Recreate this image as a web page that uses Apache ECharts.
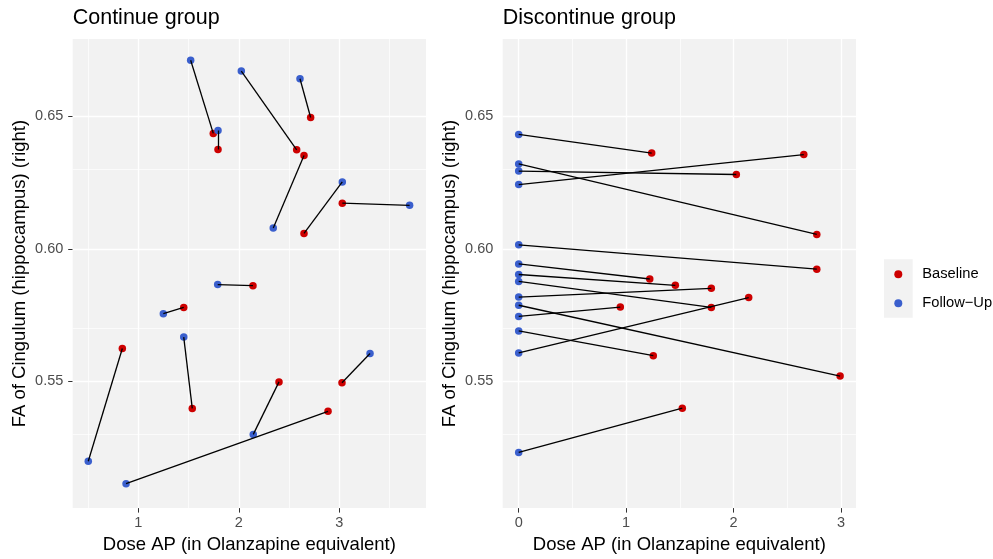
<!DOCTYPE html>
<html>
<head>
<meta charset="utf-8">
<script src="https://cdn.jsdelivr.net/npm/echarts@6/dist/echarts.min.js"></script>
<style>
html,body{margin:0;padding:0;background:#fff;}
#chart{width:993px;height:559px;}
</style>
</head>
<body>
<div id="chart"></div>
<script>
// ---- Data ----
const panelTitles = ['Continue group', 'Discontinue group'];
const xAxisTitle = 'Dose AP (in Olanzapine equivalent)';
const yAxisTitle = 'FA of Cingulum (hippocampus) (right)';
const seriesNames = ['Baseline', 'Follow\u2212Up'];

// Continue group
const contBaseX   = [1.746, 1.793, 2.576, 2.715, 2.649, 2.649, 3.030, 2.141, 1.452, 1.537, 0.841, 3.027, 2.400, 2.888];
const contBaseY   = [0.6435, 0.6374, 0.6373, 0.6495, 0.6352, 0.6058, 0.6172, 0.5861, 0.5779, 0.5398, 0.5624, 0.5495, 0.5498, 0.5387];
const contFollowX = [1.521, 1.793, 2.025, 2.609, 2.343, 3.030, 3.700, 1.790, 1.249, 1.452, 0.502, 3.306, 2.144, 0.878];
const contFollowY = [0.6711, 0.6446, 0.6670, 0.6641, 0.6078, 0.6252, 0.6164, 0.5865, 0.5755, 0.5667, 0.5199, 0.5605, 0.5300, 0.5114];

// Discontinue group
const discBaseX   = [1.238, 2.775, 2.026, 2.654, 2.775, 1.220, 1.458, 1.793, 1.793, 2.992, 0.946, 1.253, 2.141, 1.523];
const discBaseY   = [0.6361, 0.6054, 0.6280, 0.6355, 0.5923, 0.5886, 0.5862, 0.5779, 0.5851, 0.5520, 0.5780, 0.5597, 0.5816, 0.5399];
const discFollowX = [0, 0, 0, 0, 0, 0, 0, 0, 0, 0, 0, 0, 0, 0];
const discFollowY = [0.6431, 0.6320, 0.6293, 0.6242, 0.6015, 0.5943, 0.5903, 0.5877, 0.5818, 0.5787, 0.5745, 0.5690, 0.5607, 0.5232];

// Tick values
const yTicks = [0.55, 0.60, 0.65];
const yMinor = [0.525, 0.575, 0.625, 0.675];
const xTicksLeft = [1, 2, 3];
const xMinorLeft = [0.5, 1.5, 2.5, 3.5];
const xTicksRight = [0, 1, 2, 3];
const xMinorRight = [0.5, 1.5, 2.5];

// Axis ranges
const yRange = [0.50221, 0.67910];
const xRangeLeft = [0.347, 3.863];
const xRangeRight = [-0.149, 3.140];

// ---- Styling ----
const FONT = '"Liberation Sans", Arial, Helvetica, sans-serif';
const RED = '#CD0000';
const BLUE = '#3A5FCD';
const PANEL_BG = '#F2F2F2';

const gridBoxes = [
  {left: 72.7, top: 39, width: 353.3, height: 472.3},
  {left: 502.7, top: 39, width: 353.3, height: 472.3}
];

function zip(xs, ys) { return xs.map((x, i) => [x, ys[i]]); }
function pairs(fx, fy, bx, by) {
  return fx.map((x, i) => ({coords: [[x, fy[i]], [bx[i], by[i]]]}));
}

function gridLines(xMaj, xMin, yMaj, yMin) {
  const d = [];
  xMin.forEach(v => d.push({xAxis: v, lineStyle: {width: 0.7}}));
  yMin.forEach(v => d.push({yAxis: v, lineStyle: {width: 0.7}}));
  xMaj.forEach(v => d.push({xAxis: v, lineStyle: {width: 1.4}}));
  yMaj.forEach(v => d.push({yAxis: v, lineStyle: {width: 1.4}}));
  return d;
}

const panels = [
  {bx: contBaseX, by: contBaseY, fx: contFollowX, fy: contFollowY, xr: xRangeLeft, xt: xTicksLeft, xm: xMinorLeft},
  {bx: discBaseX, by: discBaseY, fx: discFollowX, fy: discFollowY, xr: xRangeRight, xt: xTicksRight, xm: xMinorRight}
];

const xAxes = [], yAxes = [], series = [], grids = [], titles = [];
panels.forEach((p, i) => {
  grids.push(Object.assign({show: true, backgroundColor: PANEL_BG, borderWidth: 0}, gridBoxes[i]));
  titles.push({
    text: panelTitles[i], left: gridBoxes[i].left - 5, top: 2,
    textStyle: {fontFamily: FONT, fontSize: 21.5, fontWeight: 'normal', color: '#000'}
  });
  xAxes.push({
    type: 'value', gridIndex: i, min: p.xr[0], max: p.xr[1],
    name: xAxisTitle, nameLocation: 'middle', nameGap: 24.5,
    nameTextStyle: {fontFamily: FONT, fontSize: 18.5, color: '#000'},
    axisLine: {show: false},
    axisTick: {show: true, length: 4.5, lineStyle: {color: '#333333', width: 1}, customValues: p.xt},
    axisLabel: {show: true, margin: 7, color: '#4D4D4D', fontFamily: FONT, fontSize: 14.5, customValues: p.xt,
      formatter: v => String(v)},
    splitLine: {show: false}
  });
  yAxes.push({
    type: 'value', gridIndex: i, min: yRange[0], max: yRange[1],
    name: yAxisTitle, nameLocation: 'middle', nameGap: 43.4,
    nameTextStyle: {fontFamily: FONT, fontSize: 18.5, color: '#000'},
    axisLine: {show: false},
    axisTick: {show: true, length: 4.5, lineStyle: {color: '#333333', width: 1}, customValues: yTicks},
    axisLabel: {show: true, margin: 9.4, color: '#4D4D4D', fontFamily: FONT, fontSize: 14.5, customValues: yTicks,
      formatter: v => Number(v).toFixed(2)},
    splitLine: {show: false}
  });
  // gridlines (drawn under the data)
  series.push({
    type: 'line', xAxisIndex: i, yAxisIndex: i, data: [], silent: true, z: 1,
    markLine: {
      silent: true, symbol: ['none', 'none'], animation: false, z: 1,
      label: {show: false},
      lineStyle: {color: '#FFFFFF', type: 'solid'},
      emphasis: {disabled: true},
      data: gridLines(p.xt, p.xm, yTicks, yMinor)
    }
  });
  series.push({
    name: seriesNames[0], type: 'scatter', xAxisIndex: i, yAxisIndex: i,
    data: zip(p.bx, p.by), symbol: 'circle', symbolSize: 7.5,
    itemStyle: {color: RED, opacity: 1}, z: 3, animation: false
  });
  series.push({
    name: seriesNames[1], type: 'scatter', xAxisIndex: i, yAxisIndex: i,
    data: zip(p.fx, p.fy), symbol: 'circle', symbolSize: 7.5,
    itemStyle: {color: BLUE, opacity: 1}, z: 3, animation: false
  });
  series.push({
    type: 'lines', coordinateSystem: 'cartesian2d', xAxisIndex: i, yAxisIndex: i,
    data: pairs(p.fx, p.fy, p.bx, p.by), silent: true, z: 4, animation: false,
    lineStyle: {color: '#000000', width: 1.3, opacity: 1, curveness: 0}
  });
});

const chart = echarts.init(document.getElementById('chart'), null, {renderer: 'canvas'});
chart.setOption({
  backgroundColor: '#FFFFFF',
  animation: false,
  title: titles,
  grid: grids,
  xAxis: xAxes,
  yAxis: yAxes,
  legend: {
    data: seriesNames, orient: 'vertical', left: 894.3, top: 266.8, padding: 0,
    icon: 'circle', itemWidth: 8, itemHeight: 8, itemGap: 14,
    textStyle: {fontFamily: FONT, fontSize: 14.7, color: '#000', padding: [0, 0, 0, 15]},
    selectedMode: false
  },
  graphic: [{
    type: 'rect', z: -1, silent: true,
    shape: {x: 884, y: 259.3, width: 28.7, height: 58.4},
    style: {fill: PANEL_BG}
  }],
  series: series
});
</script>
</body>
</html>
